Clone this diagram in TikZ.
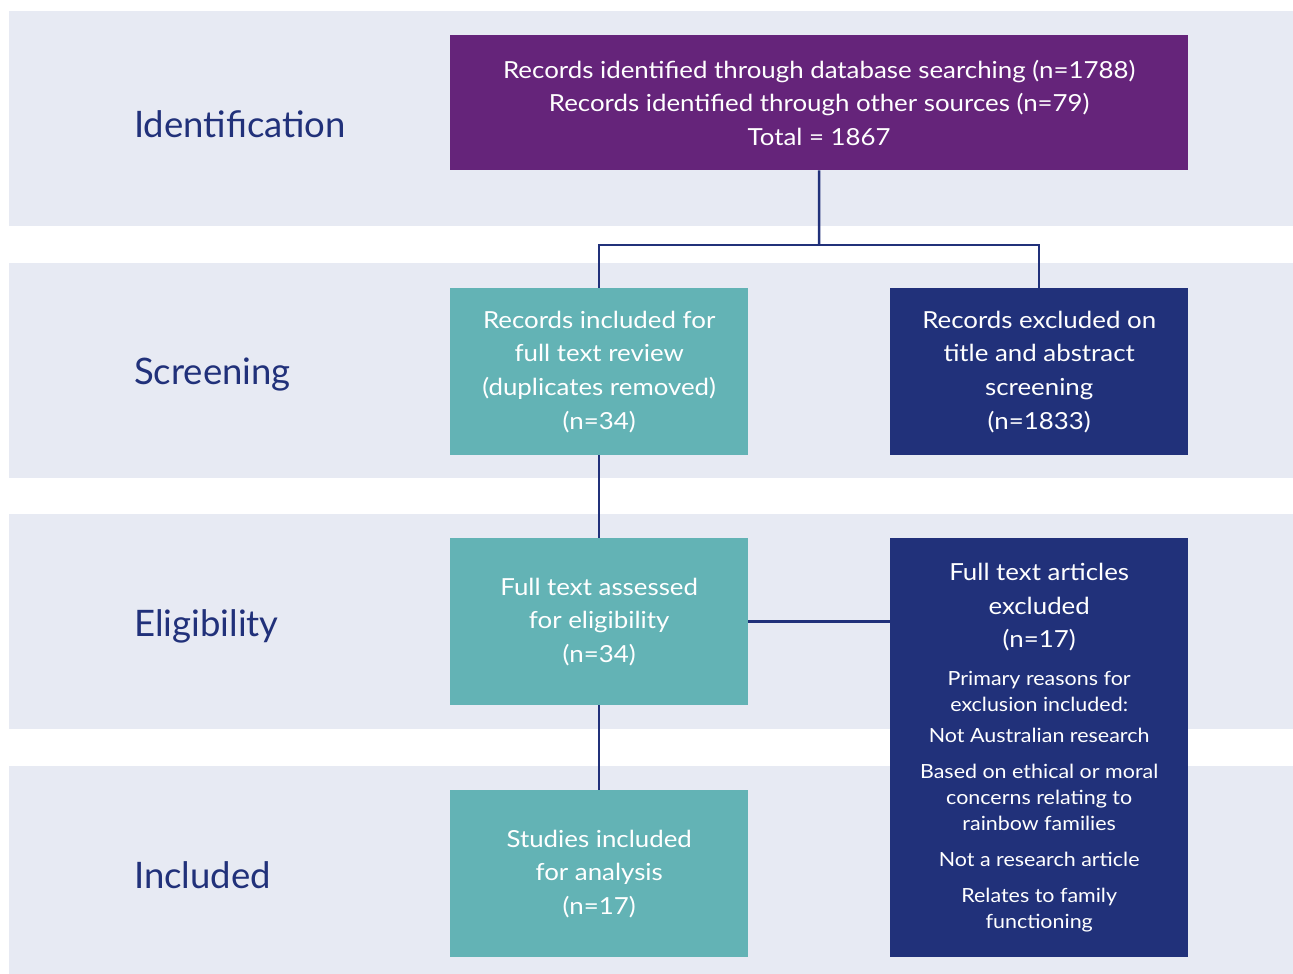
\documentclass[tikz,border=0pt]{standalone}
\usepackage{fontspec}
\setmainfont{Lato}[FakeStretch=1.1]
\newfontfamily\stagefont{Lato}
\usetikzlibrary{positioning}
\definecolor{bandbg}{HTML}{E7EAF3}
\definecolor{navy}{HTML}{21317A}
\definecolor{plum}{HTML}{65247A}
\definecolor{seagreen}{HTML}{63B3B5}
\begin{document}
\begin{tikzpicture}[x=1pt,y=-1pt,
  stage/.style={anchor=west,inner sep=0pt,text=navy,font=\stagefont\fontsize{36.5}{40}\selectfont},
  box/.style={anchor=north west,inner sep=0pt,align=center,text=white,
    minimum width=298pt,minimum height=167pt,font=\fontsize{23.5}{33.6}\selectfont},
  link/.style={draw=navy,line width=2.5pt}]
\useasboundingbox (0,0) rectangle (1293,974);
% background bands
\foreach \ytop/\ybot in {11/226,263/478,514/729,766/974}
  \fill[bandbg] (9,\ytop) rectangle (1293,\ybot);
% stage labels
\node[stage] (identlabel) at (134,124) {Identification};
\node[stage] (screenlabel) at (134,375) {Screening};
\node[stage] (eliglabel) at (134,626) {Eligibility};
\node[stage] (inclabel) at (134,875) {Included};
% boxes
\node[box,fill=plum,minimum width=738pt,minimum height=135pt] (ident) at (450,35)
  {Records identified through database searching (n=1788)\\
   Records identified through other sources (n=79)\\
   Total = 1867};
\node[box,fill=seagreen] (screenin) at (450,288)
  {Records included for\\full text review\\(duplicates removed)\\(n=34)};
\node[box,fill=navy] (screenout) at (890,288)
  {Records excluded on\\title and abstract\\screening\\(n=1833)};
\node[box,fill=seagreen] (eligin) at (450,538)
  {Full text assessed\\for eligibility\\(n=34)};
\node[box,fill=navy,minimum height=419pt,text width=298pt,align=flush center] (eligout) at (890,538)
  {{\fontsize{23.5}{33.6}\selectfont Full text articles\\excluded\\(n=17)\par}
   \vspace{12pt}
   {\fontsize{19.5}{26}\selectfont
   Primary reasons for\\exclusion included:\par
   \vspace{5pt}Not Australian research\par
   \vspace{10pt}Based on ethical or moral\\concerns relating to\\rainbow families\par
   \vspace{10pt}Not a research article\par
   \vspace{10pt}Relates to family\\functioning\par}};
\node[box,fill=seagreen] (incl) at (450,790)
  {Studies included\\for analysis\\(n=17)};
% connectors
\coordinate (fork) at (819,245);
\draw[link] (ident.south) -- (fork);
\draw[link] (fork) -| (screenin.north);
\draw[link] (fork) -| (screenout.north);
\draw[link] (screenin) -- (eligin);
\draw[link] (eligin) -- (incl);
\draw[link] (eligin.east) -- (eligin.east -| eligout.west);
\end{tikzpicture}
\end{document}
